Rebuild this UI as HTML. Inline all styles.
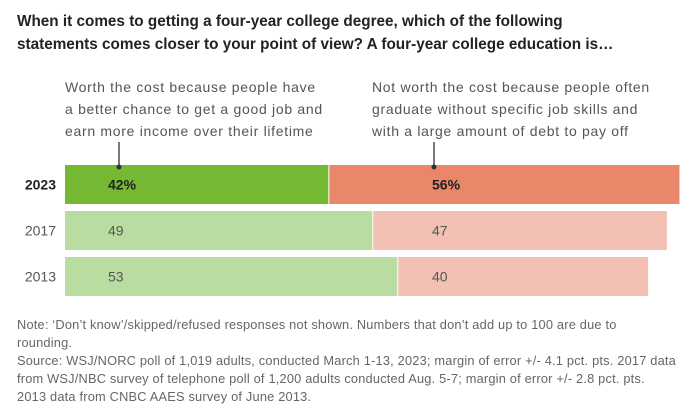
<!DOCTYPE html>
<html><head><meta charset="utf-8"><style>
body{margin:0;background:#fff;width:686px;height:413px;overflow:hidden;font-family:"Liberation Sans",sans-serif;color:#222}
.t{position:absolute;left:17px;top:10px;font-size:15.3px;font-weight:bold;line-height:23px;color:#222}
.lg{position:absolute;top:76px;font-size:14px;letter-spacing:0.7px;line-height:22px;color:#555;white-space:nowrap}
.n{position:absolute;left:17px;top:316px;font-size:12.8px;letter-spacing:0.2px;line-height:18px;color:#666;white-space:nowrap}
</style></head><body>
<div class="t">When it comes to getting a four-year college degree, which of the following<br>statements comes closer to your point of view? A four-year college education is…</div>
<div class="lg" style="left:65px">Worth the cost because people have<br>a better chance to get a good job and<br>earn more income over their lifetime</div>
<div class="lg" style="left:372px">Not worth the cost because people often<br>graduate without specific job skills and<br>with a large amount of debt to pay off</div>
<svg id="c" width="686" height="413" style="position:absolute;left:0;top:0"></svg>
<div class="n">Note: ‘Don’t know’/skipped/refused responses not shown. Numbers that don’t add up to 100 are due to<br>rounding.<br>Source: WSJ/NORC poll of 1,019 adults, conducted March 1-13, 2023; margin of error +/- 4.1 pct. pts. 2017 data<br>from WSJ/NBC survey of telephone poll of 1,200 adults conducted Aug. 5-7; margin of error +/- 2.8 pct. pts.<br>2013 data from CNBC AAES survey of June 2013.</div>
<script>
const years=["2023","2017","2013"];
const worth=[42,49,53];
const notWorth=[56,47,40];
const svg=document.getElementById('c');const NS='http://www.w3.org/2000/svg';
const x0=65,k=6.27,y0=165,rh=39,gap=7;
function X(v){return x0+v*k}
function el(t,a){const e=document.createElementNS(NS,t);for(const q in a)e.setAttribute(q,a[q]);svg.appendChild(e);return e}
years.forEach((yr,i)=>{
 const y=y0+i*(rh+gap);const b=i===0;
 const lab=el('text',{x:56,y:y+rh/2+5,'text-anchor':'end','font-size':14,'font-weight':b?'bold':'normal',fill:b?'#222':'#555','font-family':'Liberation Sans'});lab.textContent=yr;
 
 
 const g=el('rect',{x:X(0),y:y,width:X(worth[i])-X(0),height:rh,fill:b?'#74b931':'#b9dda0'});
 
 
 const r=el('rect',{x:X(worth[i])+1,y:y,width:X(worth[i]+notWorth[i])-X(worth[i])-1,height:rh,fill:b?'#ea876b':'#f3c1b4'});
 
 
 const t1=el('text',{x:108,y:y+rh/2+5,'font-size':14,'font-weight':b?'bold':'normal',fill:b?'#222':'#555','font-family':'Liberation Sans'});t1.textContent=worth[i]+(b?'%':'');
 
 
 const t2=el('text',{x:432,y:y+rh/2+5,'font-size':14,'font-weight':b?'bold':'normal',fill:b?'#222':'#555','font-family':'Liberation Sans'});t2.textContent=notWorth[i]+(b?'%':'');
 
 
});
[119,434].forEach((cx,j)=>{
 const l=el('line',{x1:cx,y1:142,x2:cx,y2:167,stroke:'#333','stroke-width':1.3});
 
 
 const d=el('circle',{cx:cx,cy:167,r:2.5,fill:'#333'});
 
 
});
</script>
</body></html>
